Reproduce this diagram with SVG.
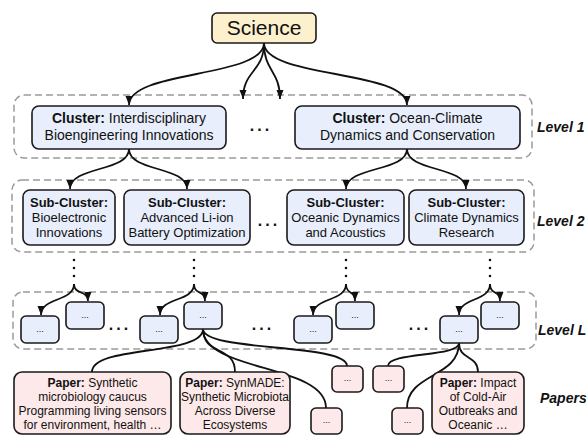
<svg xmlns="http://www.w3.org/2000/svg" width="587" height="435" viewBox="0 0 587 435">
<style>
text{font-family:"Liberation Sans",Arial,sans-serif;fill:#111;}
.cont{fill:none;stroke:#9a9a9a;stroke-width:1.5;stroke-dasharray:7 4;}
.blue{fill:#e8eefb;stroke:#1a1a1a;stroke-width:1.6;}
.pink{fill:#fde9e9;stroke:#1a1a1a;stroke-width:1.6;}
.sci{fill:#fdf0cc;stroke:#1a1a1a;stroke-width:1.6;}
.edge{fill:none;stroke:#111;stroke-width:1.8;}
.arr{marker-end:url(#ah);}
.dots{fill:none;stroke:#111;stroke-width:2.6;stroke-dasharray:0 8;stroke-linecap:round;}
.t14{font-size:14px;text-anchor:middle;}
.t13{font-size:13px;text-anchor:middle;}
.t12{font-size:12px;text-anchor:middle;}
.sm{font-size:9px;text-anchor:middle;}
.ell{font-size:16px;font-weight:bold;text-anchor:middle;letter-spacing:3px;}
.lvl{font-size:14px;font-weight:bold;font-style:italic;}
b,.b{font-weight:bold;}
</style>
<defs>
<marker id="ah" markerUnits="userSpaceOnUse" markerWidth="10" markerHeight="8" refX="9" refY="3.5" orient="auto">
<path d="M0,0 L9,3.5 L0,7 z" fill="#111"/>
</marker>
</defs>

<g id="containers">
<rect class="cont" x="14" y="95" width="518" height="63" rx="10"/>
<rect class="cont" x="12" y="180" width="522" height="72" rx="10"/>
<rect class="cont" x="13" y="292" width="523" height="57" rx="10"/>
</g>

<g id="labels">
<text class="lvl" x="537" y="132">Level 1</text>
<text class="lvl" x="537" y="226">Level 2</text>
<text class="lvl" x="538" y="335">Level L</text>
<text class="lvl" x="540" y="403">Papers</text>
<text class="ell" x="261" y="131">...</text>
<text class="ell" x="269" y="226">...</text>
<text class="ell" x="120" y="330">...</text>
<text class="ell" x="263" y="330">...</text>
<text class="ell" x="420" y="330">...</text>
</g>

<g id="connectors">
<path class="edge arr" d="M264,43 C264,78 129,70 129,105"/>
<path class="edge arr" d="M264,43 C264,72 243,70 243,99"/>
<path class="edge arr" d="M264,43 C264,72 280,70 280,99"/>
<path class="edge arr" d="M264,43 C264,78 407,70 407,105"/>
<path class="edge arr" d="M129,149 C129,172 70,166 70,189"/>
<path class="edge arr" d="M129,149 C129,172 187,166 187,189"/>
<path class="edge arr" d="M407,149 C407,172 346,166 346,189"/>
<path class="edge arr" d="M407,149 C407,172 466,166 466,189"/>
<line class="dots" x1="74" y1="260" x2="74" y2="284"/>
<line class="dots" x1="194" y1="260" x2="194" y2="284"/>
<line class="dots" x1="346" y1="260" x2="346" y2="284"/>
<line class="dots" x1="490" y1="260" x2="490" y2="284"/>
<path class="edge arr" d="M74,284 C74,302 41,297 41,315"/>
<path class="edge arr" d="M74,284 C74,295 88,290 88,301"/>
<path class="edge arr" d="M194,284 C194,302 160,297 160,315"/>
<path class="edge arr" d="M194,284 C194,295 205,290 205,301"/>
<path class="edge arr" d="M346,284 C346,302 313,297 313,315"/>
<path class="edge arr" d="M346,284 C346,295 355,290 355,301"/>
<path class="edge arr" d="M490,284 C490,302 459,297 459,315"/>
<path class="edge arr" d="M490,284 C490,295 500,290 500,301"/>
<path class="edge" d="M203,329 C203,356 92,345 92,372"/>
<path class="edge" d="M203,329 C203,356 235,345 235,372"/>
<path class="edge" d="M203,329 C203,372 326,364 326,408"/>
<path class="edge" d="M203,329 C203,352 347,343 347,366"/>
<path class="edge" d="M459,343 C459,357 388,352 388,366"/>
<path class="edge" d="M459,343 C459,378 407,373 407,408"/>
<path class="edge" d="M459,343 C459,360 478,355 478,372"/>
</g>

<g id="science">
<rect class="sci" x="212" y="13" width="104" height="30" rx="5"/>
<text x="264" y="35" style="font-size:21px;text-anchor:middle">Science</text>
</g>

<g id="cluster1">
<rect class="blue" x="32" y="106" width="194" height="43" rx="7"/>
<text class="t14" x="129" y="123"><tspan class="b">Cluster:</tspan> Interdisciplinary</text>
<text class="t14" x="129" y="140">Bioengineering Innovations</text>
</g>
<g id="cluster2">
<rect class="blue" x="295" y="106" width="225" height="43" rx="7"/>
<text class="t14" x="407.5" y="123"><tspan class="b">Cluster:</tspan> Ocean-Climate</text>
<text class="t14" x="407.5" y="140">Dynamics and Conservation</text>
</g>

<g id="sub1">
<rect class="blue" x="23" y="190" width="92" height="55" rx="7"/>
<text class="t13 b" x="69" y="207">Sub-Cluster:</text>
<text class="t13" x="69" y="222">Bioelectronic</text>
<text class="t13" x="69" y="237">Innovations</text>
</g>
<g id="sub2">
<rect class="blue" x="124" y="190" width="126" height="55" rx="7"/>
<text class="t13 b" x="187" y="207">Sub-Cluster:</text>
<text class="t13" x="187" y="222">Advanced Li-ion</text>
<text class="t13" x="187" y="237">Battery Optimization</text>
</g>
<g id="sub3">
<rect class="blue" x="287" y="190" width="117" height="55" rx="7"/>
<text class="t13 b" x="345.5" y="207">Sub-Cluster:</text>
<text class="t13" x="345.5" y="222">Oceanic Dynamics</text>
<text class="t13" x="345.5" y="237">and Acoustics</text>
</g>
<g id="sub4">
<rect class="blue" x="409" y="190" width="115" height="55" rx="7"/>
<text class="t13 b" x="466.5" y="207">Sub-Cluster:</text>
<text class="t13" x="466.5" y="222">Climate Dynamics</text>
<text class="t13" x="466.5" y="237">Research</text>
</g>

<g id="levelL-a"><rect class="blue" x="21" y="316" width="38" height="27" rx="5"/><text class="sm" x="40" y="332">...</text></g>
<g id="levelL-b"><rect class="blue" x="66" y="302" width="38" height="27" rx="5"/><text class="sm" x="85" y="318">...</text></g>
<g id="levelL-c"><rect class="blue" x="140" y="316" width="38" height="27" rx="5"/><text class="sm" x="159" y="332">...</text></g>
<g id="levelL-d"><rect class="blue" x="184" y="302" width="38" height="27" rx="5"/><text class="sm" x="203" y="318">...</text></g>
<g id="levelL-e"><rect class="blue" x="294" y="316" width="38" height="27" rx="5"/><text class="sm" x="313" y="332">...</text></g>
<g id="levelL-f"><rect class="blue" x="336" y="302" width="38" height="27" rx="5"/><text class="sm" x="355" y="318">...</text></g>
<g id="levelL-g"><rect class="blue" x="440" y="316" width="38" height="27" rx="5"/><text class="sm" x="459" y="332">...</text></g>
<g id="levelL-h"><rect class="blue" x="481" y="302" width="38" height="27" rx="5"/><text class="sm" x="500" y="318">...</text></g>

<g id="paper1">
<rect class="pink" x="14" y="372" width="157" height="62" rx="8"/>
<text class="t12" x="92.5" y="387"><tspan class="b">Paper:</tspan> Synthetic</text>
<text class="t12" x="92.5" y="401">microbiology caucus</text>
<text class="t12" x="92.5" y="415">Programming living sensors</text>
<text class="t12" x="92.5" y="429">for environment, health …</text>
</g>
<g id="paper2">
<rect class="pink" x="180" y="372" width="110" height="62" rx="8"/>
<text class="t12" x="235" y="387"><tspan class="b">Paper:</tspan> SynMADE:</text>
<text class="t12" x="235" y="401">Synthetic Microbiota</text>
<text class="t12" x="235" y="415">Across Diverse</text>
<text class="t12" x="235" y="429">Ecosystems</text>
</g>
<g id="paper3"><rect class="pink" x="311" y="408" width="31" height="26" rx="5"/><text class="sm" x="326.5" y="423">...</text></g>
<g id="paper4"><rect class="pink" x="332" y="366" width="31" height="26" rx="5"/><text class="sm" x="347.5" y="381">...</text></g>
<g id="paper5"><rect class="pink" x="373" y="366" width="31" height="26" rx="5"/><text class="sm" x="388.5" y="381">...</text></g>
<g id="paper6"><rect class="pink" x="392" y="408" width="31" height="26" rx="5"/><text class="sm" x="407.5" y="423">...</text></g>
<g id="paper7">
<rect class="pink" x="432" y="372" width="92" height="62" rx="8"/>
<text class="t12" x="478" y="387"><tspan class="b">Paper:</tspan> Impact</text>
<text class="t12" x="478" y="401">of Cold-Air</text>
<text class="t12" x="478" y="415">Outbreaks and</text>
<text class="t12" x="478" y="429">Oceanic …</text>
</g>
</svg>
